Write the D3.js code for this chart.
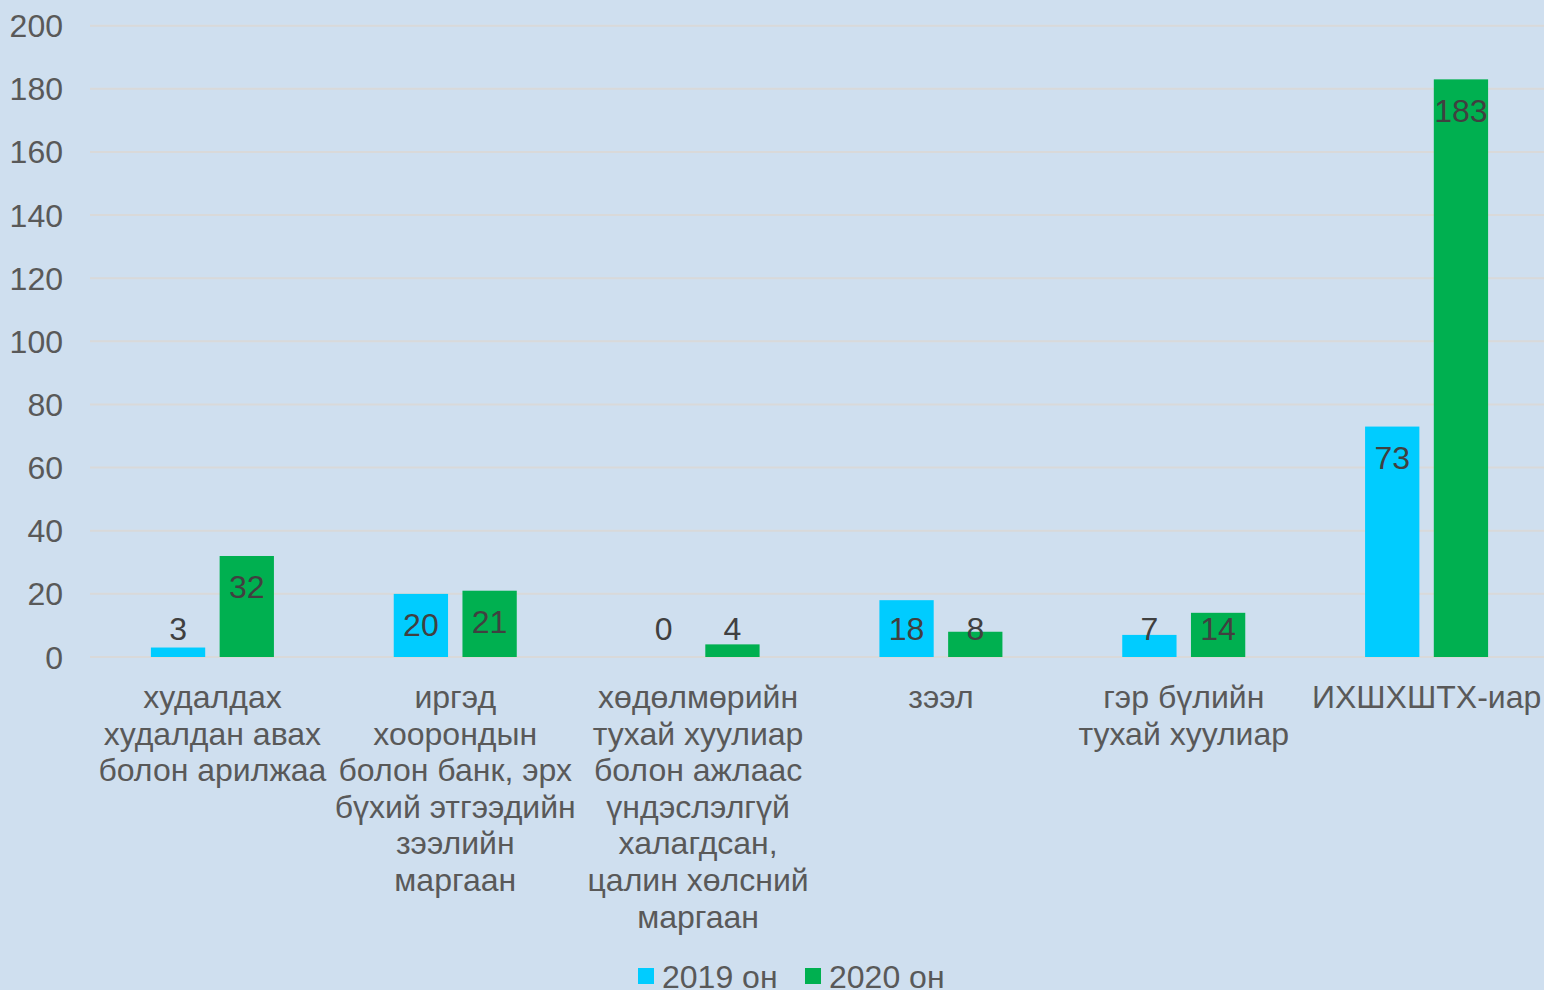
<!DOCTYPE html>
<html>
<head>
<meta charset="utf-8">
<script src="https://cdn.jsdelivr.net/npm/d3@7"></script>
<style>
  html, body { margin: 0; padding: 0; background: #cfdfef; overflow: hidden; }
  svg { display: block; font-family: "Liberation Sans", Arial, sans-serif; }
</style>
</head>
<body>
<script>
// chart data
const categories = [
  ["худалдах", "худалдан авах", "болон арилжаа"],
  ["иргэд", "хоорондын", "болон банк, эрх", "бүхий этгээдийн", "зээлийн", "маргаан"],
  ["хөдөлмөрийн", "тухай хуулиар", "болон ажлаас", "үндэслэлгүй", "халагдсан,", "цалин хөлсний", "маргаан"],
  ["зээл"],
  ["гэр бүлийн", "тухай хуулиар"],
  ["ИХШХШТХ-иар"]
];
const seriesNames = ["2019 он", "2020 он"];
const values2019 = [3, 20, 0, 18, 7, 73];
const values2020 = [32, 21, 4, 8, 14, 183];
const yTicks = [0, 20, 40, 60, 80, 100, 120, 140, 160, 180, 200];
const colors = ["#00ccff", "#00b050"];

const width = 1544, height = 990;
const fs = 32;

const svg = d3.select("body")
  .append("svg")
  .attr("width", width)
  .attr("height", height)
  .attr("viewBox", [0, 0, width, height]);

svg.append("rect").attr("width", width).attr("height", height).attr("fill", "#cfdfef");

const y = d3.scaleLinear()
  .domain([0, 200])
  .range([657, 25.7]);

const x0 = d3.scaleBand()
  .domain(d3.range(categories.length))
  .range([91, 1548])
  .paddingInner(0.4934)
  .paddingOuter(0.2467);

const x1 = d3.scaleBand()
  .domain([0, 1])
  .range([0, x0.bandwidth()])
  .paddingInner(0.21);

// gridlines
svg.append("g")
  .selectAll("line")
  .data(yTicks)
  .join("line")
  .attr("x1", 90).attr("x2", width)
  .attr("y1", d => y(d)).attr("y2", d => y(d))
  .attr("stroke", "#d9d9d9")
  .attr("stroke-width", 2);

// y tick labels
svg.append("g")
  .selectAll("text")
  .data(yTicks)
  .join("text")
  .attr("x", 63)
  .attr("y", d => y(d) + 11.5)
  .attr("text-anchor", "end")
  .attr("font-size", fs)
  .attr("fill", "#595959")
  .text(d => d);

const rows = categories.map((c, i) => ({i, vals: [values2019[i], values2020[i]]}));

const groups = svg.append("g")
  .selectAll("g")
  .data(rows)
  .join("g")
  .attr("transform", d => `translate(${x0(d.i)},0)`);

groups.selectAll("rect")
  .data(d => d.vals)
  .join("rect")
  .attr("x", (v, j) => x1(j))
  .attr("width", x1.bandwidth())
  .attr("y", v => y(v))
  .attr("height", v => y(0) - y(v))
  .attr("fill", (v, j) => colors[j]);

groups.selectAll("text")
  .data(d => d.vals)
  .join("text")
  .attr("x", (v, j) => x1(j) + x1.bandwidth() / 2)
  .attr("y", v => Math.min(y(v) + 31, 628) + 11.5)
  .attr("text-anchor", "middle")
  .attr("font-size", fs)
  .attr("fill", "#404040")
  .text(v => v);

// category labels
const catLabels = svg.append("g")
  .selectAll("text")
  .data(categories)
  .join("text")
  .attr("text-anchor", "middle")
  .attr("font-size", fs)
  .attr("fill", "#595959");

catLabels.selectAll("tspan")
  .data((d, i) => d.map(line => ({line, i})))
  .join("tspan")
  .attr("x", d => x0(d.i) + x0.bandwidth() / 2)
  .attr("y", (d, k) => 708 + k * 36.6)
  .text(d => d.line);

// legend
const legendX = [638, 805];
const legend = svg.append("g")
  .selectAll("g")
  .data(seriesNames)
  .join("g")
  .attr("transform", (d, i) => `translate(${legendX[i]},0)`);

legend.append("rect")
  .attr("y", 968).attr("width", 16).attr("height", 16)
  .attr("fill", (d, i) => colors[i]);

legend.append("text")
  .attr("x", 24).attr("y", 988)
  .attr("font-size", fs)
  .attr("fill", "#595959")
  .text(d => d);
</script>
</body>
</html>
